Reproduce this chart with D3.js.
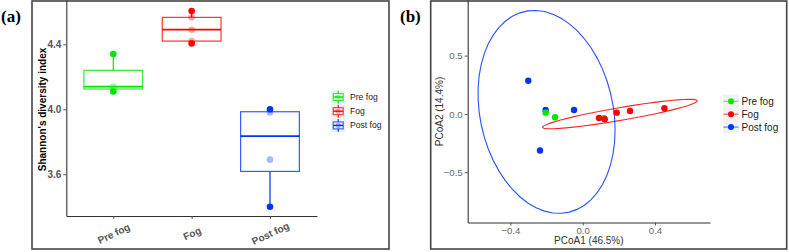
<!DOCTYPE html>
<html>
<head>
<meta charset="utf-8">
<script src="https://cdn.jsdelivr.net/npm/d3@7"></script>
<style>
  body { margin: 0; background: #fff; }
  svg { display: block; font-family: "Liberation Sans", Arial, sans-serif; }
</style>
</head>
<body>
<div id="chart"></div>
<script>
// ---- data ----
const groups = ["Pre fog", "Fog", "Post fog"];
const groupColors = ["#00e600", "#ff0000", "#0033ff"];

// Shannon's diversity index per sample
const shannonPreFog = [4.34, 4.14, 4.11];
const shannonFog = [4.605, 4.566, 4.49, 4.42, 4.405];
const shannonPostFog = [4.00, 3.98, 3.69, 3.40];
const shannonTicks = [3.6, 4.0, 4.4];

// PCoA coordinates [PCoA1, PCoA2] per sample
const pcoaPreFog = [[-0.205, 0.011], [-0.153, -0.028], [0.118, -0.037]];
const pcoaFog = [[0.090, -0.034], [0.122, -0.046], [0.188, 0.011], [0.262, 0.026], [0.452, 0.049]];
const pcoaPostFog = [[-0.301, 0.285], [-0.205, 0.034], [-0.048, 0.034], [-0.236, -0.314]];
const pcoaTicksX = [-0.4, 0.0, 0.4];
const pcoaTicksY = [-0.5, 0.0, 0.5];


const svg = d3.select("#chart").append("svg")
  .attr("width", 789)
  .attr("height", 252);


/*
 * robust t covariance (same idea as MASS::cov.trob, nu = 5), used for stat_ellipse
 */
function covTrob(pts, nu = 5, maxit = 25, tol = 0.01) {
  let n = pts.length, p = 2;
  let w = pts.map(() => 1);
  let loc = [d3.mean(pts, d => d[0]), d3.mean(pts, d => d[1])];
  let X;
  for (let iter = 0; iter < maxit; iter++) {
    let w0 = w.slice();
    X = pts.map(d => [d[0] - loc[0], d[1] - loc[1]]);
    let sw = d3.sum(w);
    let a = 0, b = 0, c = 0;
    X.forEach((d, i) => {
      a += w[i] / sw * d[0] * d[0];
      b += w[i] / sw * d[0] * d[1];
      c += w[i] / sw * d[1] * d[1];
    });
    let det = a * c - b * b;
    let Q = X.map(d => (c * d[0] * d[0] - 2 * b * d[0] * d[1] + a * d[1] * d[1]) / det);
    w = Q.map(q => (nu + p) / (nu + q));
    let sw2 = d3.sum(w);
    loc = [d3.sum(pts, (d, i) => w[i] * d[0]) / sw2, d3.sum(pts, (d, i) => w[i] * d[1]) / sw2];
    if (w.every((v, i) => Math.abs(v - w0[i]) < tol)) break;
  }
  let a = 0, b = 0, c = 0;
  X.forEach((d, i) => {
    a += w[i] * d[0] * d[0];
    b += w[i] * d[0] * d[1];
    c += w[i] * d[1] * d[1];
  });
  return { center: loc, cov: [a / n, b / n, c / n] };
}

// 95% ellipse outline, like ggplot2::stat_ellipse(type = "t")
function ellipsePoints(pts, level = 0.95, segments = 51) {
  let est = covTrob(pts);
  let dfd = pts.length - 1;
  let fq = (dfd / 2) * (Math.pow(1 - level, -2 / dfd) - 1);   // qf(level, 2, dfd)
  let r = Math.sqrt(2 * fq);
  let [a, b, c] = est.cov;
  let r11 = Math.sqrt(a), r12 = b / Math.sqrt(a), r22 = Math.sqrt(c - b * b / a);
  return d3.range(segments + 1).map(k => {
    let t = k * 2 * Math.PI / segments;
    return [est.center[0] + r * Math.cos(t) * r11,
            est.center[1] + r * (Math.cos(t) * r12 + Math.sin(t) * r22)];
  });
}


class BoxChart {

  constructor(svg, data) {
    this.svg = svg;
    this.data = data;
    this.initVis();
  }

  initVis() {
    let vis = this;

    vis.plot = { left: 66.3, right: 317, top: 0, bottom: 216 };
    vis.g = vis.svg.append("g");

    // panel frame + tag
    vis.g.append("rect")
      .attr("x", 32).attr("y", 1)
      .attr("width", 357).attr("height", 248)
      .attr("fill", "none").attr("stroke", "#444").attr("stroke-width", 1.6);
    vis.g.append("text")
      .attr("x", 1).attr("y", 22)
      .style("font-family", "'Liberation Serif', 'Times New Roman', serif")
      .style("font-weight", "bold").style("font-size", "17px")
      .text("(a)");

    vis.x = d3.scalePoint()
      .domain(groups)
      .range([vis.plot.left, vis.plot.right])
      .padding(0.6);
    vis.y = d3.scaleLinear()
      .domain([3.343, 4.673])
      .range([vis.plot.bottom, vis.plot.top]);

    // axes
    let yAxis = vis.g.append("g")
      .attr("transform", "translate(" + vis.plot.left + ",0)")
      .call(d3.axisLeft(vis.y).tickValues(shannonTicks).tickFormat(d3.format(".1f")).tickSize(3).tickPadding(2).tickSizeOuter(0));
    let xAxis = vis.g.append("g")
      .attr("transform", "translate(0," + vis.plot.bottom + ")")
      .call(d3.axisBottom(vis.x).tickSize(3).tickSizeOuter(0));

    [xAxis, yAxis].forEach(ax => {
      ax.select(".domain").attr("stroke", "#333").attr("stroke-width", 1.1);
      ax.selectAll(".tick line").attr("stroke", "#555");
      ax.selectAll("text")
        .attr("fill", "#555")
        .style("font-size", "10px")
        .style("font-weight", "bold")
        .style("font-family", "'Liberation Sans', Arial, sans-serif");
    });
    xAxis.selectAll("text")
      .attr("y", 17.5)
      .attr("dy", "0.35em")
      .attr("text-anchor", "middle")
      .attr("transform", "rotate(-25,0,17.5)");

    vis.g.append("text")
      .attr("transform", "translate(45.5,109.5) rotate(-90)")
      .attr("text-anchor", "middle")
      .style("font-size", "10px").style("font-weight", "bold")
      .text("Shannon's diversity index");

    vis.wrangleData();
  }

  wrangleData() {
    let vis = this;

    vis.stats = vis.data.map(d => {
      let v = d.values.slice().sort(d3.ascending);
      let q1 = d3.quantile(v, 0.25), med = d3.quantile(v, 0.5), q3 = d3.quantile(v, 0.75);
      let iqr = q3 - q1;
      return {
        key: d.key, color: d.color, values: v, q1, med, q3,
        lo: d3.min(v.filter(e => e >= q1 - 1.5 * iqr)),
        hi: d3.max(v.filter(e => e <= q3 + 1.5 * iqr))
      };
    });

    vis.updateVis();
  }

  updateVis() {
    let vis = this;
    let bw = vis.x.step() * 0.75;

    let box = vis.g.selectAll(".box")
      .data(vis.stats)
      .enter().append("g")
      .attr("class", "box");

    box.append("line")
      .attr("x1", d => vis.x(d.key)).attr("x2", d => vis.x(d.key))
      .attr("y1", d => vis.y(d.q3)).attr("y2", d => vis.y(d.hi))
      .attr("stroke", d => d.color).attr("stroke-width", 1.2);
    box.append("line")
      .attr("x1", d => vis.x(d.key)).attr("x2", d => vis.x(d.key))
      .attr("y1", d => vis.y(d.q1)).attr("y2", d => vis.y(d.lo))
      .attr("stroke", d => d.color).attr("stroke-width", 1.2);
    box.append("rect")
      .attr("x", d => vis.x(d.key) - bw / 2)
      .attr("y", d => vis.y(d.q3))
      .attr("width", bw)
      .attr("height", d => vis.y(d.q1) - vis.y(d.q3))
      .attr("fill", "none")
      .attr("stroke", d => d.color).attr("stroke-opacity", 0.8).attr("stroke-width", 1.2);
    box.append("line")
      .attr("x1", d => vis.x(d.key) - bw / 2).attr("x2", d => vis.x(d.key) + bw / 2)
      .attr("y1", d => vis.y(d.med)).attr("y2", d => vis.y(d.med))
      .attr("stroke", d => d.color).attr("stroke-width", 1.8);

    // sample points (light) and whisker-end points (solid)
    box.selectAll(".pt")
      .data(d => d.values.map(v => ({ v, d })))
      .enter().append("circle")
      .attr("class", "pt")
      .attr("cx", p => vis.x(p.d.key))
      .attr("cy", p => vis.y(p.v))
      .attr("r", 3.3)
      .attr("fill", p => p.d.color)
      .attr("fill-opacity", p => (p.v === p.d.lo || p.v === p.d.hi) ? 1 : 0.35);

    // legend
    let leg = vis.g.append("g");
    leg.append("rect")
      .attr("x", 331).attr("y", 90.5)
      .attr("width", 14.5).attr("height", 41.5)
      .attr("fill", "#f2f2f2");
    let item = leg.selectAll(".item")
      .data(vis.stats)
      .enter().append("g")
      .attr("class", "item")
      .attr("transform", (d, i) => "translate(338.2," + (97 + i * 14.2) + ")");
    item.append("line")
      .attr("y1", -6.5).attr("y2", 6.5)
      .attr("stroke", d => d.color).attr("stroke-width", 1.1);
    item.append("rect")
      .attr("x", -5).attr("y", -3.5).attr("width", 10).attr("height", 7)
      .attr("fill", "#f2f2f2").attr("stroke", d => d.color).attr("stroke-opacity", 0.8).attr("stroke-width", 1.1);
    item.append("line")
      .attr("x1", -5).attr("x2", 5)
      .attr("stroke", d => d.color).attr("stroke-width", 1.4);
    item.append("circle")
      .attr("r", 2.6)
      .attr("fill", d => d.color).attr("fill-opacity", 0.35);
    item.append("text")
      .attr("x", 11.8).attr("dy", "0.35em")
      .style("font-size", "8.6px").attr("fill", "#222")
      .text(d => d.key);
  }
}


class PcoaChart {

  constructor(svg, data) {
    this.svg = svg;
    this.data = data;
    this.initVis();
  }

  initVis() {
    let vis = this;

    vis.plot = { left: 467.7, right: 710, top: 0, bottom: 222.5 };
    vis.g = vis.svg.append("g");

    vis.g.append("rect")
      .attr("x", 430.7).attr("y", 1)
      .attr("width", 356).attr("height", 248)
      .attr("fill", "none").attr("stroke", "#444").attr("stroke-width", 1.6);
    vis.g.append("text")
      .attr("x", 400).attr("y", 22)
      .style("font-family", "'Liberation Serif', 'Times New Roman', serif")
      .style("font-weight", "bold").style("font-size", "17px")
      .text("(b)");

    vis.x = d3.scaleLinear()
      .domain([-0.636, 0.704])
      .range([vis.plot.left, vis.plot.right]);
    vis.y = d3.scaleLinear()
      .domain([-0.931, 0.977])
      .range([vis.plot.bottom, vis.plot.top]);

    let fmt = d3.format(".1f");
    let xAxis = vis.g.append("g")
      .attr("transform", "translate(0," + vis.plot.bottom + ")")
      .call(d3.axisBottom(vis.x).tickValues(pcoaTicksX).tickFormat(fmt).tickSize(3).tickPadding(2).tickSizeOuter(0));
    let yAxis = vis.g.append("g")
      .attr("transform", "translate(" + vis.plot.left + ",0)")
      .call(d3.axisLeft(vis.y).tickValues(pcoaTicksY).tickFormat(fmt).tickSize(3).tickPadding(2).tickSizeOuter(0));

    [xAxis, yAxis].forEach(ax => {
      ax.select(".domain").attr("stroke", "#333").attr("stroke-width", 1.1);
      ax.selectAll(".tick line").attr("stroke", "#555");
      ax.selectAll("text")
        .attr("fill", "#666")
        .style("font-size", "9.6px")
        .style("font-family", "'Liberation Sans', Arial, sans-serif");
    });
    xAxis.selectAll("text").text(d => fmt(d).replace("-", "-"));

    vis.g.append("text")
      .attr("x", (vis.plot.left + vis.plot.right) / 2).attr("y", 244)
      .attr("text-anchor", "middle")
      .style("font-size", "10px").attr("fill", "#333")
      .text("PCoA1 (46.5%)");
    vis.g.append("text")
      .attr("transform", "translate(443,111.5) rotate(-90)")
      .attr("text-anchor", "middle")
      .style("font-size", "10px").attr("fill", "#333")
      .text("PCoA2 (14.4%)");

    vis.updateVis();
  }

  updateVis() {
    let vis = this;

    let line = d3.line()
      .x(d => vis.x(d[0]))
      .y(d => vis.y(d[1]));

    // ellipses (groups with more than 3 samples)
    vis.g.selectAll(".ellipse")
      .data(vis.data.filter(d => d.values.length > 3))
      .enter().append("path")
      .attr("class", "ellipse")
      .attr("d", d => line(ellipsePoints(d.values)))
      .attr("fill", "none")
      .attr("stroke", d => d.color)
      .attr("stroke-opacity", 0.85)
      .attr("stroke-width", 1.1);

    // draw order: Post fog, Pre fog, Fog
    let order = [2, 0, 1].map(i => vis.data[i]);
    order.forEach(grp => {
      vis.g.selectAll(null)
        .data(grp.values)
        .enter().append("circle")
        .attr("cx", d => vis.x(d[0]))
        .attr("cy", d => vis.y(d[1]))
        .attr("r", 3.2)
        .attr("fill", grp.color);
    });

    // legend
    let leg = vis.g.append("g");
    leg.append("rect")
      .attr("x", 723).attr("y", 94.5)
      .attr("width", 16).attr("height", 38.5)
      .attr("fill", "#f2f2f2");
    let item = leg.selectAll(".item")
      .data(vis.data)
      .enter().append("g")
      .attr("class", "item")
      .attr("transform", (d, i) => "translate(731," + (101.3 + i * 12.9) + ")");
    item.append("line")
      .attr("x1", -7.5).attr("x2", 7.5)
      .attr("stroke", d => d.color).attr("stroke-opacity", 0.6).attr("stroke-width", 1.2);
    item.append("circle")
      .attr("r", 3)
      .attr("fill", d => d.color);
    item.append("text")
      .attr("x", 10.5).attr("dy", "0.35em")
      .style("font-size", "10px").attr("fill", "#222")
      .text(d => d.key);
  }
}


let boxChart = new BoxChart(svg, [
  { key: groups[0], color: groupColors[0], values: shannonPreFog },
  { key: groups[1], color: groupColors[1], values: shannonFog },
  { key: groups[2], color: groupColors[2], values: shannonPostFog }
]);

let pcoaChart = new PcoaChart(svg, [
  { key: groups[0], color: groupColors[0], values: pcoaPreFog },
  { key: groups[1], color: groupColors[1], values: pcoaFog },
  { key: groups[2], color: groupColors[2], values: pcoaPostFog }
]);
</script>
</body>
</html>
